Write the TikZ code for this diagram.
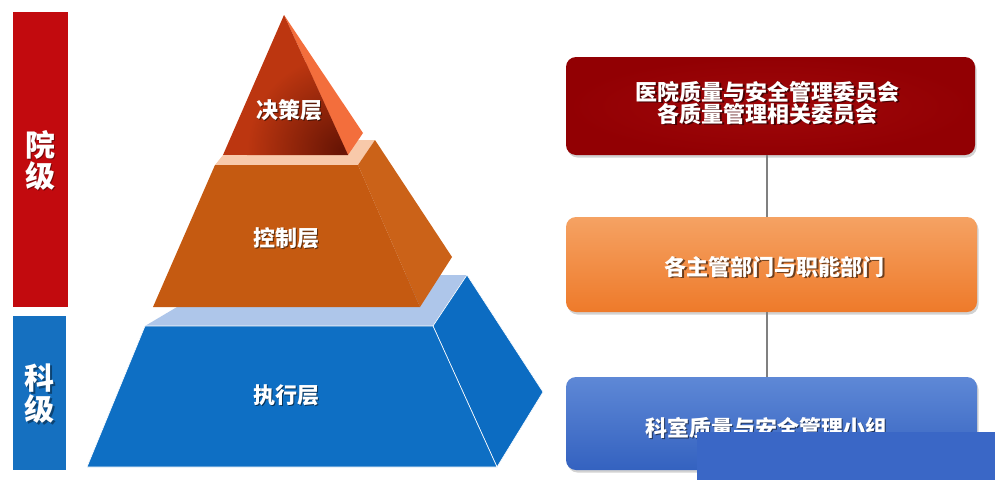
\documentclass[tikz,border=0pt]{standalone}
\usepackage{fontspec}
\newfontfamily\cjk{Noto Sans CJK SC}
\usetikzlibrary{shadows}
\definecolor{barred}{HTML}{C20A0E}
\definecolor{barblue}{HTML}{1570C0}
\definecolor{trilight}{HTML}{BC3610}
\definecolor{tridark}{HTML}{661404}
\definecolor{triside}{HTML}{F36E3C}
\definecolor{midfront}{HTML}{C55A11}
\definecolor{midside}{HTML}{CB6218}
\definecolor{midcap}{HTML}{F8C9AA}
\definecolor{botfront}{HTML}{0E6FC4}
\definecolor{botside}{HTML}{0C6CC2}
\definecolor{botcap}{HTML}{AEC6EA}
\definecolor{boxred}{HTML}{920003}
\definecolor{boxredlight}{HTML}{A0080A}
\definecolor{boxortop}{HTML}{F5A263}
\definecolor{boxorbot}{HTML}{EE7A2A}
\definecolor{boxbltop}{HTML}{5E88D6}
\definecolor{boxblbot}{HTML}{3462C0}
\definecolor{patchblue}{HTML}{3A67C6}
\definecolor{linkgray}{HTML}{808080}
\tikzset{
  face/.style={draw=white, line width=0.6pt, line join=round},
  txt/.style={text=white, inner sep=0pt, align=center, font=\cjk\bfseries\fontsize{22}{22}\selectfont},
  txtsh/.style={txt, text=black, opacity=0.55},
  bigtxt/.style={text=white, inner sep=0pt, align=center, font=\cjk\bfseries\fontsize{30}{31}\selectfont},
  bigtxtsh/.style={bigtxt, text=black, opacity=0.4},
  orgbox/.style={rounded corners=10pt, inner sep=0pt,
    drop shadow={opacity=0.35, shadow xshift=1.5pt, shadow yshift=-2.5pt}},
  link/.style={draw=linkgray, line width=2pt},
}
\newcommand\shtxt[4]{%
  \node[#3sh] (#1-sh) at ([shift={(1.5,1.5)}]#2) {#4};
  \node[#3] (#1) at (#2) {#4};}
\begin{document}
\begin{tikzpicture}[x=1pt, y=-1pt]
\useasboundingbox[fill=white] (0,0) rectangle (998,483);

% left bars
\node[fill=barred, minimum width=55pt, minimum height=295pt, inner sep=0pt] (yuan) at (40.5,159.5) {};
\node[fill=barblue, minimum width=53pt, minimum height=154pt, inner sep=0pt] (ke) at (39.5,393) {};
\shtxt{yuanlbl}{40.5,160}{bigtxt}{院\\级}
\shtxt{kelbl}{39.5,394}{bigtxt}{科\\级}

% bottom layer
\fill[botcap] (145,326) -- (433,326) -- (467,275) -- (200,275) -- (177,307) -- cycle;
\filldraw[face, fill=botside] (433,326) -- (467,275) -- (543,392) -- (497,467) -- cycle;
\filldraw[face, fill=botfront] (145,326) -- (433,326) -- (497,467) -- (87,467) -- cycle;

% middle layer
\fill[midcap] (215,165) -- (358,165) -- (375,140) -- (300,140) -- (223,155) -- cycle;
\fill[midside] (358,165) -- (375,140) -- (452,257) -- (420,307) -- cycle;
\fill[midfront] (215,165) -- (358,165) -- (420,307) -- (153,307) -- cycle;

% top layer
\fill[triside] (284,15) -- (363,133) -- (348,155) -- cycle;
\begin{scope}
  \clip (284,15) -- (348,155) -- (223,155) -- cycle;
  \fill[trilight] (223,15) rectangle (348,155);
  \shade[inner color=tridark, outer color=trilight] (342,150) circle (95);
\end{scope}

\shtxt{jue}{289,110}{txt}{决策层}
\shtxt{kong}{286,238}{txt}{控制层}
\shtxt{zhi}{286,395}{txt}{执行层}

% right boxes
\node[orgbox, minimum width=409pt, minimum height=98pt, inner color=boxredlight, outer color=boxred] (b1) at (770.5,106) {};
\node[orgbox, minimum width=411pt, minimum height=95pt, top color=boxortop, bottom color=boxorbot] (b2) at (771.5,264.5) {};
\node[orgbox, minimum width=411pt, minimum height=93pt, top color=boxbltop, bottom color=boxblbot] (b3) at (771.5,423.5) {};
\draw[link] ([xshift=-3.5pt]b1.south) -- ([xshift=-4.5pt]b2.north);
\draw[link] ([xshift=-4.5pt]b2.south) -- ([xshift=-4.5pt]b3.north);

\shtxt{t1}{767.5,103}{txt}{医院质量与安全管理委员会\\各质量管理相关委员会}
\shtxt{t2}{774.5,267}{txt}{各主管部门与职能部门}
\shtxt{t3}{766,428}{txt}{科室质量与安全管理小组}

% patch over the lower right corner
\fill[patchblue] (697,432) rectangle (995,480);
\end{tikzpicture}
\end{document}
